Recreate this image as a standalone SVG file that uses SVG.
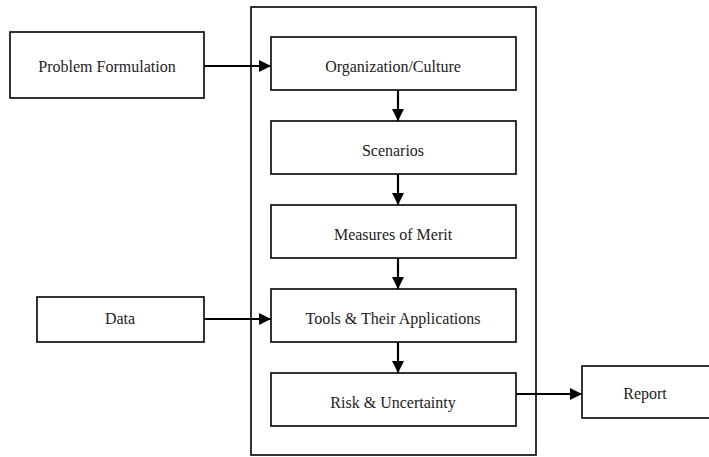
<svg xmlns="http://www.w3.org/2000/svg" width="709" height="457" viewBox="0 0 709 457">
<style>
.box{fill:#fff;stroke:#000;stroke-width:1.6}
.lbl{font-family:'Liberation Serif','DejaVu Serif','Times New Roman',serif;font-size:16px;fill:#222;text-anchor:middle}
.con{stroke:#000;stroke-width:2.2;fill:none}
</style>
<defs>
<marker id="ah2" viewBox="0 0 12 12" refX="12" refY="6" markerWidth="12" markerHeight="12" markerUnits="userSpaceOnUse" orient="auto">
<path d="M0,0 L12,6 L0,12 z" fill="#000"/>
</marker>
</defs>
<g id="outer"><rect class="box" x="251" y="7" width="285" height="448"/></g>
<g id="problem"><rect class="box" x="10" y="32" width="194" height="66"/><text class="lbl" x="107" y="72">Problem Formulation</text></g>
<g id="data"><rect class="box" x="37" y="297" width="167" height="45"/><text class="lbl" x="120" y="324">Data</text></g>
<g id="org"><rect class="box" x="271" y="37" width="245" height="53"/><text class="lbl" x="393" y="72">Organization/Culture</text></g>
<g id="scen"><rect class="box" x="271" y="121" width="245" height="53"/><text class="lbl" x="393" y="156">Scenarios</text></g>
<g id="mom"><rect class="box" x="271" y="205" width="245" height="53"/><text class="lbl" x="393" y="240">Measures of Merit</text></g>
<g id="tools"><rect class="box" x="271" y="289" width="245" height="53"/><text class="lbl" x="393" y="324">Tools &amp; Their Applications</text></g>
<g id="risk"><rect class="box" x="271" y="373" width="245" height="53"/><text class="lbl" x="393" y="408">Risk &amp; Uncertainty</text></g>
<g id="report"><rect class="box" x="582" y="366" width="130" height="52"/><text class="lbl" x="645" y="399">Report</text></g>
<g id="connectors">
<line class="con" x1="204" y1="66" x2="271" y2="66" marker-end="url(#ah2)"/>
<line class="con" x1="204" y1="319" x2="271" y2="319" marker-end="url(#ah2)"/>
<line class="con" x1="516" y1="394" x2="582" y2="394" marker-end="url(#ah2)"/>
<line class="con" x1="398" y1="90" x2="398" y2="121" marker-end="url(#ah2)"/>
<line class="con" x1="398" y1="174" x2="398" y2="205" marker-end="url(#ah2)"/>
<line class="con" x1="398" y1="258" x2="398" y2="289" marker-end="url(#ah2)"/>
<line class="con" x1="398" y1="342" x2="398" y2="373" marker-end="url(#ah2)"/>
</g>
</svg>
